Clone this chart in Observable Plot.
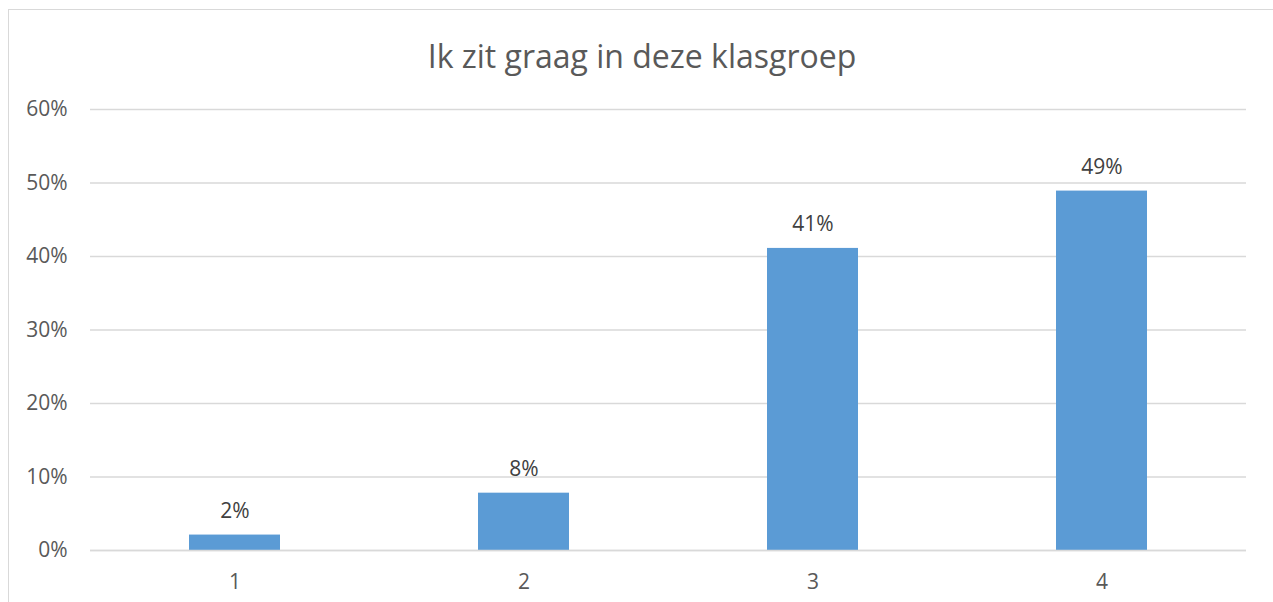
<!DOCTYPE html>
<html>
<head>
<meta charset="utf-8">
<script src="https://cdn.jsdelivr.net/npm/d3@7"></script>
<script src="https://cdn.jsdelivr.net/npm/@observablehq/plot@0.6"></script>
<style>
  html, body { margin: 0; padding: 0; overflow: hidden; background: #fff; }
  #wrap { position: relative; width: 1273px; height: 602px; overflow: hidden; }
  #frame { position: absolute; left: 8px; top: 9px; width: 1300px; height: 700px; border: 1px solid #d9d9d9; box-sizing: border-box; }
  #title { position: absolute; left: 8px; width: 1268px; top: 34px; text-align: center;
           font-family: "Open Sans", sans-serif; font-size: 32px; color: #595959; line-height: normal; }
  #chart { position: absolute; left: 0; top: 0; }
</style>
</head>
<body>
<div id="wrap">
  <div id="frame"></div>
  <div id="title">Ik zit graag in deze klasgroep</div>
  <div id="chart"></div>
</div>
<script>
const categories = ["1", "2", "3", "4"];
const values = [2.1, 7.8, 41.1, 48.9];
const labels = ["2%", "8%", "41%", "49%"];
const yTicks = [0, 10, 20, 30, 40, 50, 60];

const data = categories.map((c, i) => ({cat: c, value: values[i], label: labels[i]}));

const chart = Plot.plot({
  width: 1273,
  height: 602,
  marginTop: 109,
  marginBottom: 52,
  marginLeft: 90,
  marginRight: 27,
  style: {fontFamily: "'Open Sans', sans-serif", fontSize: "21px", color: "#595959", background: "transparent"},
  x: {domain: categories, paddingInner: 0.685, paddingOuter: 0.3425, label: null},
  y: {domain: [0, 60], label: null},
  marks: [
    Plot.gridY(yTicks, {stroke: "#d9d9d9", strokeOpacity: 1, strokeWidth: 1.5}),
    Plot.axisY(yTicks, {tickSize: 0, tickPadding: 23, tickFormat: d => d + "%", fill: "#595959", fontSize: 21, label: null}),
    Plot.axisX({tickSize: 0, tickPadding: 24, fill: "#595959", fontSize: 21, label: null}),
    Plot.barY(data, {x: "cat", y: "value", fill: "#5b9bd5"}),
    Plot.ruleY([0], {stroke: "#d9d9d9", strokeWidth: 1.5}),
    Plot.text(data, {x: "cat", y: "value", text: "label", dy: -24, fill: "#404040", fontSize: 21})
  ]
});
document.getElementById("chart").appendChild(chart);
</script>
</body>
</html>
